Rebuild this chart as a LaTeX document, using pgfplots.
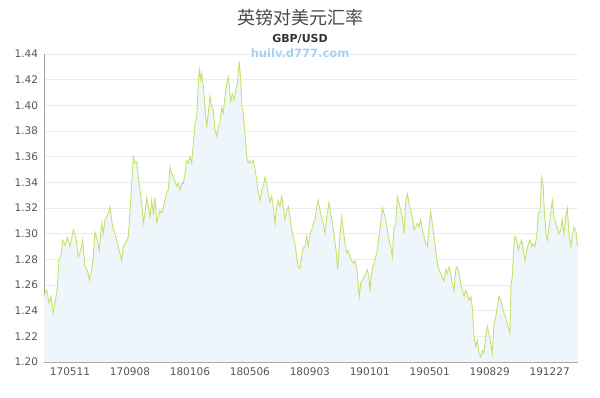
\documentclass[border=0pt]{standalone}
\usepackage{pgfplots}
\pgfplotsset{compat=1.18}
\usepackage{pgfplotstable}
\usepackage{fontspec}
\setmainfont{DejaVu Sans}
\newfontfamily\cjk{Noto Sans CJK SC}
\definecolor{titlec}{HTML}{4A4A4A}
\definecolor{subc}{HTML}{333333}
\definecolor{tickc}{HTML}{555555}
\definecolor{wmc}{HTML}{A9D1EE}
\definecolor{gridc}{HTML}{EBEBEB}
\definecolor{axisc}{HTML}{A0A0A0}
\definecolor{fillc}{HTML}{EEF5FB}
\definecolor{linec}{HTML}{C5E16B}

\pgfplotstableread{
x y
44 1.251
45 1.254
46.7 1.256
49 1.246
51 1.251
53.3 1.238
56 1.251
57.3 1.258
59 1.280
60.7 1.282
62.7 1.295
65 1.291
67.3 1.297
70 1.290
73.3 1.303
76 1.297
78.3 1.282
80.7 1.287
82.7 1.295
85 1.274
87.3 1.272
89.3 1.264
91.7 1.272
93.3 1.282
95 1.301
97.3 1.295
99.3 1.287
101.7 1.308
103.3 1.300
105 1.311
108.3 1.316
110 1.321
112.7 1.305
115 1.300
118.3 1.290
121.7 1.279
123.3 1.290
126 1.293
128.3 1.298
130 1.318
131.7 1.340
133.3 1.360
135 1.355
136.7 1.356
138.3 1.344
140 1.334
141.7 1.324
143.3 1.308
145 1.316
146.7 1.328
148.3 1.321
150 1.313
151.7 1.326
153.3 1.316
155 1.328
156.7 1.309
158.3 1.313
160 1.318
161.7 1.316
163.3 1.320
165 1.326
166.7 1.332
168.3 1.334
170 1.352
171.7 1.347
173.3 1.344
175 1.341
176.7 1.337
178.3 1.339
180 1.334
181.7 1.339
183.3 1.339
185 1.347
186.7 1.357
188.3 1.355
190 1.360
191.7 1.355
193.3 1.370
195 1.386
196.7 1.391
198.3 1.417
199.3 1.428
200.7 1.420
201.7 1.425
203.3 1.415
205 1.399
206.7 1.383
208.3 1.394
210 1.407
211.7 1.399
213.3 1.396
215 1.381
216.7 1.376
218.3 1.383
220 1.387
221.7 1.398
223.3 1.394
225 1.407
226.7 1.417
228.3 1.422
229.3 1.415
230.7 1.403
232.3 1.409
234 1.404
235.7 1.411
237.3 1.417
239.3 1.434
240.7 1.420
242 1.399
243.3 1.394
245 1.378
246.7 1.360
248.3 1.355
250 1.357
251.7 1.355
253.3 1.357
255 1.350
256.7 1.342
258.3 1.331
260 1.326
261.7 1.334
263.3 1.337
265 1.344
266.7 1.339
268.3 1.331
270 1.325
271.7 1.329
273.3 1.321
275 1.308
276.7 1.321
278.3 1.326
280 1.321
281.7 1.329
283.3 1.321
285 1.311
286.7 1.318
288.3 1.321
290 1.313
291.7 1.303
293.3 1.298
295 1.292
296.7 1.282
298.3 1.274
300 1.273
301.7 1.282
303.3 1.289
305 1.290
306.7 1.298
308.3 1.290
310 1.300
311.7 1.303
313.3 1.308
315 1.311
316.7 1.321
318.3 1.326
320 1.318
321.7 1.313
323.3 1.308
325 1.300
326.7 1.313
329 1.324
330.7 1.316
332.7 1.307
334.3 1.298
336 1.287
337.7 1.272
339.3 1.292
341.7 1.313
343.3 1.303
345 1.292
346.7 1.285
348.3 1.287
350 1.282
351.7 1.279
353.3 1.277
355 1.279
356.7 1.274
358.3 1.259
359.3 1.251
360.7 1.261
362.3 1.264
364 1.266
365.7 1.269
367.3 1.272
369 1.266
370 1.255
371 1.266
372.7 1.274
374 1.277
375.7 1.282
377.3 1.287
379 1.298
380.7 1.308
382.3 1.320
384 1.316
385.7 1.311
387.3 1.303
389 1.295
390.7 1.290
392.3 1.282
394 1.305
395.7 1.307
397.3 1.329
399 1.324
400.7 1.318
402.3 1.313
404 1.300
405.7 1.324
407.3 1.331
409 1.324
410.7 1.318
412.3 1.313
414 1.303
415.7 1.305
417.3 1.308
419 1.305
420.7 1.311
422.3 1.303
424 1.298
425.7 1.292
427.3 1.290
429 1.305
430.7 1.317
432.3 1.308
434 1.298
435.7 1.287
437.3 1.277
439 1.272
440.7 1.269
442.3 1.266
444 1.263
445.7 1.272
447.3 1.269
449 1.274
450.7 1.269
452.3 1.261
454 1.256
455.7 1.272
457.3 1.274
459 1.269
460.7 1.261
462.3 1.256
464 1.251
465.7 1.256
467.3 1.253
469 1.248
470.7 1.251
472.3 1.243
474 1.220
475.7 1.212
477.3 1.217
479 1.207
480.7 1.204
482.3 1.209
484 1.207
485.7 1.220
487.3 1.228
489 1.222
490.7 1.215
492.3 1.207
494 1.230
495.7 1.235
497.3 1.243
499 1.251
500.7 1.248
502.3 1.243
504 1.238
505.7 1.235
507.3 1.230
509 1.225
510 1.222
511 1.261
512.3 1.266
514 1.292
515 1.298
516.7 1.295
518.3 1.287
520 1.292
521.7 1.295
523.3 1.287
525 1.279
526.7 1.287
528.3 1.292
530 1.295
531.7 1.290
533.3 1.292
535 1.290
536.7 1.298
538.3 1.316
540 1.318
541.7 1.344
543 1.339
544.3 1.318
546 1.300
547.3 1.295
549 1.305
550.7 1.316
552.3 1.326
554 1.313
555.7 1.308
557.3 1.305
559 1.300
560.7 1.303
562.3 1.311
564 1.300
565.7 1.313
567.3 1.320
569 1.300
570.7 1.290
572.3 1.298
574 1.305
575.7 1.303
577.3 1.292
578 1.290
}\gbp

\begin{document}
\begin{tikzpicture}
\path[use as bounding box] (-44pt,-35pt) rectangle (556pt,362pt);
\begin{axis}[
  at={(0pt,0pt)}, anchor=south west,
  scale only axis, width=534pt, height=308pt,
  xmin=44, xmax=578, ymin=1.20, ymax=1.44,
  enlargelimits=false,
  axis lines=left,
  axis line style={-, draw=axisc, line width=0.8pt},
  major tick length=0pt,
  ytick={1.20,1.22,1.24,1.26,1.28,1.30,1.32,1.34,1.36,1.38,1.40,1.42,1.44},
  xtick={70,129.96,189.92,249.88,309.84,369.8,429.76,489.72,549.68},
  xticklabels={170511,170908,180106,180506,180903,190101,190501,190829,191227},
  ymajorgrids,
  major grid style={draw=gridc, line width=0.7pt},
  /pgf/number format/assume math mode=true,
  y tick label style={/pgf/number format/fixed, /pgf/number format/fixed zerofill, /pgf/number format/precision=2},
  tick label style={font=\fontsize{10.5}{12}\selectfont, text=tickc},
  y tick label style={xshift=-2.5pt},
  x tick label style={yshift=-2.5pt},
]
\addplot[fill=fillc, draw=none] table {\gbp} \closedcycle;
\addplot[draw=linec, line width=0.9pt] table {\gbp};
\end{axis}
\node[text=titlec, font=\cjk\fontsize{18}{20}\selectfont] at (256pt,344pt) {英镑对美元汇率};
\node[text=subc, font=\bfseries\fontsize{11}{13}\selectfont] at (256pt,323pt) {GBP/USD};
\node[text=wmc, font=\bfseries\fontsize{11.5}{13}\selectfont] at (256pt,309pt) {huilv.d777.com};
\end{tikzpicture}
\end{document}
